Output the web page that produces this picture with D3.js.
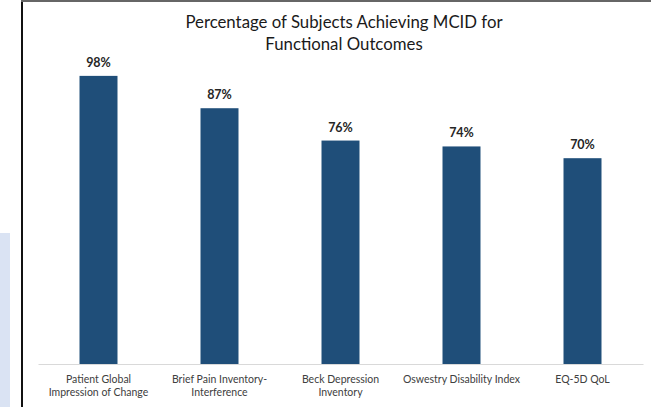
<!DOCTYPE html>
<html>
<head>
<meta charset="utf-8">
<script src="https://cdn.jsdelivr.net/npm/d3@7"></script>
<style>
	html, body { margin: 0; padding: 0; background: #fff; }
	svg { display: block; }
</style>
</head>
<body>
<div id="chart"></div>
<script>
// chart data
var categories = [
	["Patient Global", "Impression of Change"],
	["Brief Pain Inventory-", "Interference"],
	["Beck Depression", "Inventory"],
	["Oswestry Disability Index"],
	["EQ-5D QoL"]
];
var values = [98, 87, 76, 74, 70];
var titleLines = ["Percentage of Subjects Achieving MCID for", "Functional Outcomes"];

var w = 651,
	h = 407,
	baseY = 364,
	topY = 70,
	fontFamily = "Lato, 'Liberation Sans', sans-serif";

var svg = d3.select("#chart")
	.append("svg")
	.attr("width", w)
	.attr("height", h);

// frame bits around the chart
svg.append("rect")
	.attr("x", 0).attr("y", 233)
	.attr("width", 10).attr("height", h - 233)
	.attr("fill", "#dae3f3");
svg.append("rect")
	.attr("x", 21).attr("y", 0)
	.attr("width", 2).attr("height", h)
	.attr("fill", "#111");
svg.append("rect")
	.attr("x", 21).attr("y", 0)
	.attr("width", w - 21).attr("height", 2)
	.attr("fill", "#666");

var x = d3.scaleBand()
	.domain(d3.range(values.length))
	.range([38, 643])
	.paddingInner(0.686)
	.paddingOuter(0.343);

var y = d3.scaleLinear()
	.domain([0, 100])
	.range([baseY, topY]);

// title
svg.append("g").selectAll("text")
	.data(titleLines)
	.enter().append("text")
	.attr("x", 344)
	.attr("y", function(d, i) { return 28 + i * 22; })
	.attr("text-anchor", "middle")
	.attr("font-family", fontFamily)
	.attr("font-size", "16.8px")
	.attr("fill", "#1a1a1a")
	.text(function(d) { return d; });

// bars
svg.append("g").selectAll("rect")
	.data(values)
	.enter().append("rect")
	.attr("x", function(d, i) { return x(i); })
	.attr("y", function(d) { return y(d); })
	.attr("width", x.bandwidth())
	.attr("height", function(d) { return baseY - y(d); })
	.attr("fill", "#1f4e79");

// value labels
svg.append("g").selectAll("text")
	.data(values)
	.enter().append("text")
	.attr("x", function(d, i) { return x(i) + x.bandwidth() / 2; })
	.attr("y", function(d) { return y(d) - 9; })
	.attr("text-anchor", "middle")
	.attr("font-family", fontFamily)
	.attr("font-size", "12.5px")
	.attr("font-weight", "bold")
	.attr("fill", "#262626")
	.text(function(d) { return d + "%"; });

// x axis
var xAxis = svg.append("g")
	.attr("transform", "translate(0," + baseY + ")")
	.call(d3.axisBottom(x).tickSize(0).tickFormat(""));
xAxis.select(".domain").attr("stroke", "#d9d9d9").attr("stroke-width", 1.2);

var labels = svg.append("g").selectAll("text")
	.data(categories)
	.enter().append("text")
	.attr("x", function(d, i) { return x(i) + x.bandwidth() / 2; })
	.attr("y", 383)
	.attr("text-anchor", "middle")
	.attr("font-family", fontFamily)
	.attr("font-size", "10.5px")
	.attr("fill", "#404040");

labels.selectAll("tspan")
	.data(function(d) { return d; })
	.enter().append("tspan")
	.attr("x", function() { return d3.select(this.parentNode).attr("x"); })
	.attr("dy", function(d, i) { return i === 0 ? 0 : 13; })
	.text(function(d) { return d; });
</script>
</body>
</html>
